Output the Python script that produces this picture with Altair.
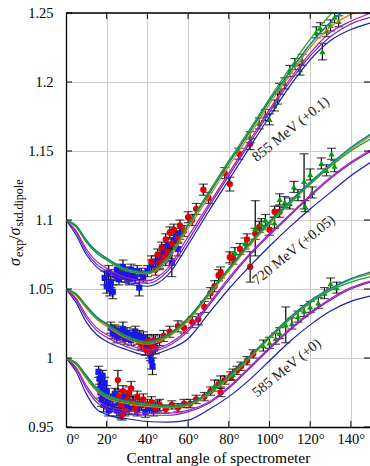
import altair as alt
import pandas as pd

# ---------------------------------------------------------------------------
# Model curves: sigma_exp / sigma_std.dipole vs. central spectrometer angle
# (values already include the vertical offset of each beam energy)
# ---------------------------------------------------------------------------
ANGLES = [0, 5, 10, 15, 20, 30, 40, 50, 60, 70, 80, 90, 100, 110, 120, 130, 140, 150]

CURVES_585 = {
    "blue":    [1.000, 0.990, 0.974, 0.963, 0.959, 0.956, 0.954, 0.9535, 0.955, 0.9625, 0.972, 0.984, 0.998, 1.012, 1.024, 1.034, 1.041, 1.045],
    "violet":  [1.000, 0.992, 0.978, 0.968, 0.963, 0.960, 0.9585, 0.9585, 0.961, 0.967, 0.978, 0.992, 1.0065, 1.020, 1.032, 1.042, 1.050, 1.055],
    "magenta": [1.000, 0.993, 0.980, 0.970, 0.965, 0.962, 0.960, 0.960, 0.962, 0.968, 0.979, 0.993, 1.0075, 1.021, 1.033, 1.043, 1.051, 1.056],
    "orange":  [1.000, 0.995, 0.985, 0.976, 0.971, 0.967, 0.965, 0.964, 0.9655, 0.9735, 0.9855, 0.9995, 1.014, 1.028, 1.040, 1.050, 1.057, 1.061],
    "cyan":    [1.000, 0.996, 0.987, 0.978, 0.973, 0.9685, 0.9665, 0.965, 0.9665, 0.9745, 0.9865, 1.0005, 1.015, 1.029, 1.041, 1.050, 1.057, 1.062],
    "teal":    [1.000, 0.9965, 0.9875, 0.9785, 0.9735, 0.969, 0.967, 0.9655, 0.967, 0.975, 0.987, 1.001, 1.0155, 1.0295, 1.0415, 1.0505, 1.0575, 1.0625],
    "green":   [1.000, 0.996, 0.986, 0.977, 0.972, 0.968, 0.966, 0.9645, 0.966, 0.974, 0.986, 1.000, 1.0145, 1.028, 1.040, 1.049, 1.055, 1.059],
}

CURVES_720 = {
    "blue":    [1.050, 1.040, 1.026, 1.017, 1.012, 1.006, 1.002, 1.006, 1.014, 1.032, 1.050, 1.066, 1.081, 1.095, 1.108, 1.120, 1.132, 1.142],
    "violet":  [1.050, 1.042, 1.029, 1.020, 1.015, 1.008, 1.0045, 1.0085, 1.0195, 1.0375, 1.0565, 1.074, 1.089, 1.103, 1.117, 1.130, 1.141, 1.150],
    "magenta": [1.050, 1.043, 1.031, 1.022, 1.017, 1.010, 1.006, 1.010, 1.021, 1.039, 1.058, 1.075, 1.090, 1.104, 1.118, 1.131, 1.142, 1.151],
    "orange":  [1.050, 1.045, 1.036, 1.028, 1.023, 1.014, 1.010, 1.015, 1.027, 1.045, 1.063, 1.081, 1.097, 1.112, 1.126, 1.139, 1.151, 1.161],
    "cyan":    [1.050, 1.046, 1.0375, 1.0295, 1.0245, 1.0155, 1.0115, 1.0165, 1.0285, 1.0465, 1.0645, 1.0825, 1.0985, 1.113, 1.127, 1.140, 1.152, 1.162],
    "teal":    [1.050, 1.0465, 1.038, 1.030, 1.025, 1.016, 1.012, 1.017, 1.029, 1.047, 1.065, 1.083, 1.099, 1.1135, 1.1275, 1.1405, 1.1525, 1.1625],
    "green":   [1.050, 1.046, 1.037, 1.029, 1.024, 1.015, 1.011, 1.016, 1.028, 1.046, 1.064, 1.082, 1.098, 1.112, 1.126, 1.139, 1.150, 1.159],
}

CURVES_855 = {
    "blue":    [1.100, 1.089, 1.075, 1.066, 1.061, 1.054, 1.052, 1.060, 1.082, 1.106, 1.129, 1.152, 1.175, 1.197, 1.216, 1.230, 1.238, 1.243],
    "violet":  [1.100, 1.091, 1.077, 1.068, 1.063, 1.056, 1.054, 1.063, 1.085, 1.109, 1.132, 1.155, 1.178, 1.200, 1.219, 1.233, 1.242, 1.247],
    "magenta": [1.100, 1.092, 1.079, 1.070, 1.065, 1.058, 1.056, 1.065, 1.088, 1.111, 1.134, 1.157, 1.180, 1.202, 1.221, 1.236, 1.244, 1.250],
    "orange":  [1.100, 1.095, 1.084, 1.076, 1.071, 1.063, 1.061, 1.071, 1.094, 1.116, 1.139, 1.161, 1.184, 1.205, 1.225, 1.240, 1.249, 1.254],
    "cyan":    [1.100, 1.0955, 1.085, 1.077, 1.072, 1.064, 1.062, 1.073, 1.096, 1.118, 1.141, 1.163, 1.186, 1.207, 1.227, 1.243, 1.255, 1.264],
    "teal":    [1.100, 1.096, 1.0855, 1.0775, 1.0725, 1.0645, 1.0625, 1.0735, 1.0965, 1.1185, 1.1415, 1.1635, 1.1865, 1.2075, 1.2275, 1.2435, 1.2555, 1.265],
    "green":   [1.100, 1.095, 1.084, 1.076, 1.071, 1.063, 1.0615, 1.073, 1.097, 1.120, 1.143, 1.165, 1.188, 1.210, 1.231, 1.249, 1.262, 1.272],
}

MODEL_COLORS = {
    "blue": "#1c1cb0",
    "violet": "#6b2ab8",
    "magenta": "#b01cb0",
    "orange": "#e07a0c",
    "cyan": "#18c4c4",
    "teal": "#0a7c74",
    "green": "#1e9e1e",
}

# ---------------------------------------------------------------------------
# Measurements: (angle [deg], ratio incl. offset, error)
# ---------------------------------------------------------------------------
SQUARES_585 = [
    (16, 0.990, 0.004), (16.5, 0.985, 0.004), (17, 0.980, 0.004), (17, 0.975, 0.004),
    (17.5, 0.970, 0.005), (18, 0.987, 0.004), (18, 0.978, 0.004), (18.5, 0.966, 0.005),
    (19, 0.982, 0.004), (19.5, 0.972, 0.004), (20, 0.976, 0.004), (20.5, 0.968, 0.005),
    (21, 0.962, 0.004), (22, 0.970, 0.004), (23, 0.965, 0.004), (24, 0.974, 0.004),
    (25, 0.962, 0.004), (26, 0.968, 0.004), (27, 0.960, 0.004), (28, 0.972, 0.004),
    (30, 0.966, 0.004), (31, 0.963, 0.004), (33, 0.968, 0.004), (35, 0.962, 0.004),
    (37, 0.966, 0.004), (39, 0.961, 0.004), (41, 0.964, 0.004), (43, 0.962, 0.004),
    (45, 0.965, 0.004),
]
CIRCLES_585 = [
    (25.5, 0.984, 0.007), (26, 0.972, 0.004), (27, 0.966, 0.004), (27.5, 0.959, 0.004),
    (28, 0.976, 0.004), (29, 0.962, 0.004), (30, 0.970, 0.004), (31, 0.975, 0.004),
    (32, 0.978, 0.005), (33, 0.968, 0.004), (34, 0.963, 0.004), (35, 0.972, 0.004),
    (36, 0.967, 0.004), (38, 0.970, 0.004), (40, 0.966, 0.004), (42, 0.968, 0.004),
    (44, 0.964, 0.004), (46, 0.966, 0.004), (49, 0.963, 0.003), (52, 0.966, 0.003),
    (55, 0.964, 0.003), (58, 0.967, 0.003), (61, 0.967, 0.003), (64, 0.970, 0.003),
    (68, 0.972, 0.003), (71, 0.976, 0.003), (75, 0.981, 0.003), (76, 0.975, 0.003),
    (78, 0.984, 0.003), (81, 0.987, 0.003), (84, 0.991, 0.003), (86, 0.994, 0.003),
    (89, 0.998, 0.003), (92, 1.003, 0.003),
]
TRIANGLES_585 = [
    (73, 0.980, 0.004), (76, 0.983, 0.004), (82, 0.988, 0.004), (97, 1.009, 0.004),
    (100, 1.011, 0.004), (103, 1.014, 0.004), (105, 1.018, 0.004), (108, 1.024, 0.013),
    (111, 1.025, 0.004), (114, 1.030, 0.004), (117, 1.034, 0.004), (120, 1.037, 0.004),
    (124, 1.040, 0.004), (127, 1.047, 0.004), (130, 1.054, 0.004), (133, 1.051, 0.004),
]

SQUARES_720 = [
    (22, 1.022, 0.004), (23, 1.018, 0.004), (24, 1.020, 0.004), (25, 1.015, 0.004),
    (26, 1.019, 0.004), (27, 1.017, 0.004), (28, 1.021, 0.005), (29, 1.014, 0.004),
    (30, 1.018, 0.004), (31, 1.016, 0.004), (32, 1.013, 0.004), (33, 1.017, 0.004),
    (34, 1.019, 0.004), (35, 1.014, 0.004), (36, 1.016, 0.004), (37, 1.012, 0.004),
    (38, 1.015, 0.004), (39, 1.010, 0.004), (40, 1.013, 0.004), (41, 1.007, 0.005),
    (41.5, 1.003, 0.005), (42, 0.998, 0.006), (42.5, 0.994, 0.006), (43, 1.009, 0.004),
    (44, 1.012, 0.004),
]
CIRCLES_720 = [
    (37, 1.010, 0.004), (39, 1.006, 0.004), (40, 1.012, 0.004), (41, 1.004, 0.004),
    (42, 1.009, 0.004), (43, 1.013, 0.004), (44, 1.007, 0.004), (46, 1.013, 0.004),
    (48, 1.016, 0.004), (51, 1.019, 0.004), (55, 1.023, 0.004), (58, 1.022, 0.004),
    (62, 1.026, 0.004), (65, 1.028, 0.004), (68, 1.037, 0.004), (71, 1.047, 0.004),
    (73, 1.052, 0.004), (75, 1.060, 0.004), (76, 1.062, 0.004), (80.5, 1.073, 0.004),
    (82, 1.072, 0.004), (85.5, 1.079, 0.004), (89, 1.086, 0.004), (90.5, 1.066, 0.011),
    (93, 1.090, 0.004), (95, 1.095, 0.004), (100, 1.093, 0.004), (102.5, 1.106, 0.004),
    (105, 1.106, 0.004),
]
TRIANGLES_720 = [
    (83, 1.076, 0.004), (88, 1.083, 0.004), (93, 1.094, 0.020), (96, 1.097, 0.004),
    (98, 1.100, 0.004), (102.5, 1.098, 0.004), (105, 1.115, 0.004), (107.5, 1.113, 0.004),
    (110, 1.112, 0.004), (112, 1.124, 0.004), (114, 1.118, 0.004), (117, 1.128, 0.020),
    (117.5, 1.110, 0.004), (120, 1.133, 0.004), (121, 1.120, 0.004), (125.5, 1.141, 0.004),
    (128, 1.136, 0.004), (130.5, 1.148, 0.004), (132, 1.139, 0.004),
]

SQUARES_855 = [
    (19, 1.058, 0.005), (20, 1.052, 0.005), (21, 1.062, 0.005), (21.5, 1.050, 0.005),
    (22, 1.055, 0.004), (23, 1.048, 0.005), (24, 1.060, 0.004), (25, 1.064, 0.004),
    (26, 1.057, 0.004), (27, 1.061, 0.004), (28, 1.066, 0.005), (29, 1.059, 0.004),
    (30, 1.062, 0.004), (31, 1.057, 0.004), (32, 1.064, 0.004), (33, 1.060, 0.004),
    (34, 1.058, 0.004), (35, 1.063, 0.004), (36, 1.051, 0.006), (37, 1.061, 0.004),
    (38, 1.059, 0.004), (40, 1.063, 0.004), (42, 1.067, 0.004), (44, 1.070, 0.004),
    (46, 1.068, 0.004), (47, 1.074, 0.004), (48, 1.078, 0.004), (49, 1.072, 0.005),
    (50, 1.082, 0.004), (51, 1.076, 0.004), (52, 1.069, 0.010), (53, 1.085, 0.004),
    (54, 1.088, 0.004), (55, 1.079, 0.005), (56, 1.090, 0.004),
]
CIRCLES_855 = [
    (42, 1.070, 0.004), (44, 1.064, 0.004), (45, 1.075, 0.004), (46, 1.069, 0.004),
    (47, 1.080, 0.004), (48, 1.073, 0.004), (49, 1.086, 0.004), (50, 1.077, 0.004),
    (51, 1.091, 0.004), (52, 1.083, 0.004), (53, 1.093, 0.004), (55, 1.087, 0.004),
    (56, 1.096, 0.004), (58, 1.092, 0.004), (60, 1.102, 0.004), (62, 1.100, 0.004),
    (64, 1.108, 0.004), (67.5, 1.122, 0.004), (70, 1.116, 0.004), (78, 1.134, 0.004),
    (80.5, 1.126, 0.005), (85, 1.148, 0.004), (90.5, 1.155, 0.004),
]
TRIANGLES_855 = [
    (90.5, 1.160, 0.004), (95, 1.170, 0.004), (98, 1.176, 0.004), (100, 1.173, 0.004),
    (102.5, 1.183, 0.004), (104, 1.188, 0.004), (105, 1.195, 0.004), (107.5, 1.199, 0.004),
    (110, 1.208, 0.004), (112.5, 1.213, 0.004), (115, 1.209, 0.004), (116, 1.216, 0.004),
    (123, 1.236, 0.004), (125, 1.239, 0.004), (126, 1.222, 0.006), (128, 1.237, 0.004),
    (130, 1.241, 0.004), (132, 1.247, 0.004), (134, 1.244, 0.004),
]

ENERGY_LABELS = [
    (108.6, 0.9926, "585 MeV (+0)"),
    (112.0, 1.0780, "720 MeV (+0.05)"),
    (110.6, 1.1656, "855 MeV (+0.1)"),
]

X_TICKS = [0, 20, 40, 60, 80, 100, 120, 140]
Y_TICKS = [0.95, 1.0, 1.05, 1.1, 1.15, 1.2, 1.25]

# ---------------------------------------------------------------------------
W, H = 304, 414
FONT = "Liberation Serif"

x_scale = alt.Scale(domain=[0, 149.4], nice=False, zero=False)
y_scale = alt.Scale(domain=[0.95, 1.25], nice=False, zero=False)

# one shared axis definition per channel, used by every layer
AX = alt.Axis(values=X_TICKS, labelExpr="datum.value + '°'", grid=True,
              gridColor="#cccccc", gridWidth=1, ticks=False, tickSize=0,
              labelPadding=5, labelFont=FONT, labelFontSize=14.5, labelColor="black",
              domainColor="black", domainWidth=1.3, title=None)
AY = alt.Axis(values=Y_TICKS, format="~g", grid=True, gridColor="#cccccc",
              gridWidth=1, ticks=False, tickSize=0, labelPadding=13,
              labelFont=FONT, labelFontSize=14.5, labelColor="black",
              domainColor="black", domainWidth=1.3, title=None)


def X(field="angle"):
    return alt.X(f"{field}:Q", scale=x_scale, axis=AX)


def Y(field="value"):
    return alt.Y(f"{field}:Q", scale=y_scale, axis=AY)


def points_frame(*groups):
    rows = []
    for grp in groups:
        for a, v, e in grp:
            rows.append({"angle": a, "value": v, "lo": v - e, "hi": v + e})
    return pd.DataFrame(rows)


squares = points_frame(SQUARES_585, SQUARES_720, SQUARES_855)
circles = points_frame(CIRCLES_585, CIRCLES_720, CIRCLES_855)
triangles = points_frame(TRIANGLES_585, TRIANGLES_720, TRIANGLES_855)
all_points = pd.concat([squares, circles, triangles], ignore_index=True)

# inward tick marks on all four sides
ytick_df = pd.DataFrame({"value": Y_TICKS})
xtick_df = pd.DataFrame({"angle": X_TICKS[1:]})
tick_style = dict(color="black", strokeWidth=1)
left_ticks = alt.Chart(ytick_df).mark_rule(**tick_style).encode(
    y=Y(), x=alt.value(0), x2=alt.value(6))
right_ticks = alt.Chart(ytick_df).mark_rule(**tick_style).encode(
    y=Y(), x=alt.value(W - 6), x2=alt.value(W))
top_ticks = alt.Chart(xtick_df).mark_rule(**tick_style).encode(
    x=X(), y=alt.value(0), y2=alt.value(6))
bottom_ticks = alt.Chart(xtick_df).mark_rule(**tick_style).encode(
    x=X(), y=alt.value(H - 6), y2=alt.value(H))
top_border = alt.Chart(xtick_df.head(1)).mark_rule(color="black", strokeWidth=1.3).encode(
    x=alt.value(0), x2=alt.value(W), y=alt.value(0))

# error bars with caps
err_rules = alt.Chart(all_points).mark_rule(color="black", strokeWidth=1.2, clip=True).encode(
    x=X(), y=Y("lo"), y2="hi:Q")
cap_lo = alt.Chart(all_points).mark_tick(color="black", orient="horizontal", size=9,
                                         thickness=1.2, clip=True).encode(x=X(), y=Y("lo"))
cap_hi = alt.Chart(all_points).mark_tick(color="black", orient="horizontal", size=9,
                                         thickness=1.2, clip=True).encode(x=X(), y=Y("hi"))

sq_layer = alt.Chart(squares).mark_point(shape="square", filled=True, size=38, color="#1818e8",
                                         opacity=1, clip=True).encode(x=X(), y=Y())
ci_layer = alt.Chart(circles).mark_point(shape="circle", filled=True, size=40, color="#e00000",
                                         opacity=1, clip=True).encode(x=X(), y=Y())
tr_layer = alt.Chart(triangles).mark_point(shape="triangle-up", filled=True, size=38,
                                           color="#00a000", opacity=1, clip=True).encode(x=X(), y=Y())

# model curves, one layer per model so the stacking order is fixed
curve_layers = []
for model, color in MODEL_COLORS.items():
    rows = []
    for energy, curves in ((585, CURVES_585), (720, CURVES_720), (855, CURVES_855)):
        for a, v in zip(ANGLES, curves[model]):
            rows.append({"energy": energy, "angle": a, "value": v})
    curve_layers.append(
        alt.Chart(pd.DataFrame(rows)).mark_line(color=color, strokeWidth=1.2,
                                                interpolate="monotone", clip=True).encode(
            x=X(), y=Y(), detail="energy:N")
    )

labels = alt.Chart(pd.DataFrame(ENERGY_LABELS, columns=["angle", "value", "text"])).mark_text(
    angle=321, font=FONT, fontSize=14.5, color="#222222", align="center", baseline="middle"
).encode(x=X(), y=Y(), text="text:N")

# axis titles built from text pieces (subscripts for the y title)
one = pd.DataFrame({"k": [0]})


def piece(txt, x, y, size, style="normal", angle=270, align="left"):
    return alt.Chart(one).mark_text(text=txt, font=FONT, fontSize=size, fontStyle=style,
                                    angle=angle, align=align, baseline="alphabetic",
                                    color="black").encode(x=alt.value(x), y=alt.value(y))


y_title = [
    piece("σ", -46, 253, 16, "italic"),
    piece("exp", -43, 244, 12),
    piece("/", -46, 227, 16),
    piece("σ", -46, 222.5, 16, "italic"),
    piece("std.dipole", -43, 213.5, 12),
]
x_title = piece("Central angle of spectrometer", W / 2 + 0.5, 450, 15.5, angle=0, align="center")

chart = alt.layer(
    err_rules, cap_lo, cap_hi, sq_layer, ci_layer, tr_layer, *curve_layers,
    labels, left_ticks, right_ticks, top_ticks, bottom_ticks, top_border, *y_title, x_title,
).properties(
    width=W, height=H,
    autosize=alt.AutoSizeParams(type="none"),
    padding={"left": 66, "top": 13, "right": 0, "bottom": 39},
).configure_view(stroke=None).configure(background="white")

chart.save("out.html", embed_options={"renderer": "svg", "actions": False})
